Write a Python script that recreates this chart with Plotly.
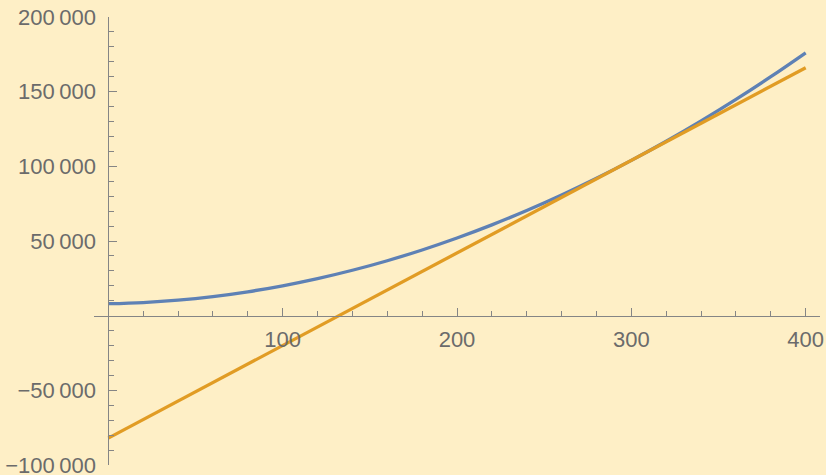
import plotly.graph_objects as go

# Cost curve sampled every 20 units, and its tangent line at x = 300
x_curve = [0, 20, 40, 60, 80, 100, 120, 140, 160, 180, 200,
           220, 240, 260, 280, 300, 320, 340, 360, 380, 400]
y_curve = [8000, 8800, 10400, 12800, 16000, 20000, 24800, 30400, 36800, 44000, 52000,
           60800, 70400, 80800, 92000, 104000, 116800, 130400, 144800, 160000, 176000]
x_tangent = [0, 400]
y_tangent = [-82000, 166000]

x_ticks = [100, 200, 300, 400]
x_labels = ["100", "200", "300", "400"]
x_minor = [v for v in range(20, 401, 20) if v % 100 != 0]
y_ticks = [-100000, -50000, 50000, 100000, 150000, 200000]
y_labels = ["\u2212100\u2009000", "\u221250\u2009000", "50\u2009000",
            "100\u2009000", "150\u2009000", "200\u2009000"]
y_minor = [v for v in range(-100000, 200001, 10000) if v % 50000 != 0]

BG = "#FEEFC6"
AXIS = "#858585"
LABEL = "#6B6B6B"

fig = go.Figure()
fig.add_trace(go.Scatter(x=x_curve, y=y_curve, mode="lines",
                         line=dict(color="#5E81B5", width=3.3, shape="spline"),
                         hoverinfo="skip"))
fig.add_trace(go.Scatter(x=x_tangent, y=y_tangent, mode="lines",
                         line=dict(color="#E19C24", width=3.3),
                         hoverinfo="skip"))

x_range = [-8.2, 408.2]
y_range = [-100000, 200000]

fig.update_layout(
    width=826, height=475,
    margin=dict(l=94, r=6, t=17, b=10, autoexpand=False),
    paper_bgcolor=BG, plot_bgcolor=BG,
    showlegend=False,
    font=dict(family="Liberation Sans, Arial, sans-serif", size=22, color=LABEL),
    xaxis=dict(
        range=x_range, showgrid=False, zeroline=False, automargin=False,
        showline=True, linecolor=AXIS, linewidth=1,
        anchor="free", position=(0 - y_range[0]) / (y_range[1] - y_range[0]),
        tickmode="array", tickvals=x_ticks, ticktext=x_labels,
        ticks="inside", ticklen=8, tickwidth=1, tickcolor=AXIS,
        ticklabelstandoff=4, ticklabeloverflow="allow",
        minor=dict(tickmode="array", tickvals=x_minor, ticks="inside",
                   ticklen=5, tickwidth=1, tickcolor=AXIS),
    ),
    yaxis=dict(
        range=y_range, showgrid=False, zeroline=False, automargin=False,
        showline=True, linecolor=AXIS, linewidth=1,
        anchor="free", position=(0 - x_range[0]) / (x_range[1] - x_range[0]),
        tickmode="array", tickvals=y_ticks, ticktext=y_labels,
        ticks="inside", ticklen=8, tickwidth=1, tickcolor=AXIS,
        ticklabelstandoff=8, ticklabeloverflow="allow",
        minor=dict(tickmode="array", tickvals=y_minor, ticks="inside",
                   ticklen=5, tickwidth=1, tickcolor=AXIS),
    ),
)

fig.write_html("out.html")
